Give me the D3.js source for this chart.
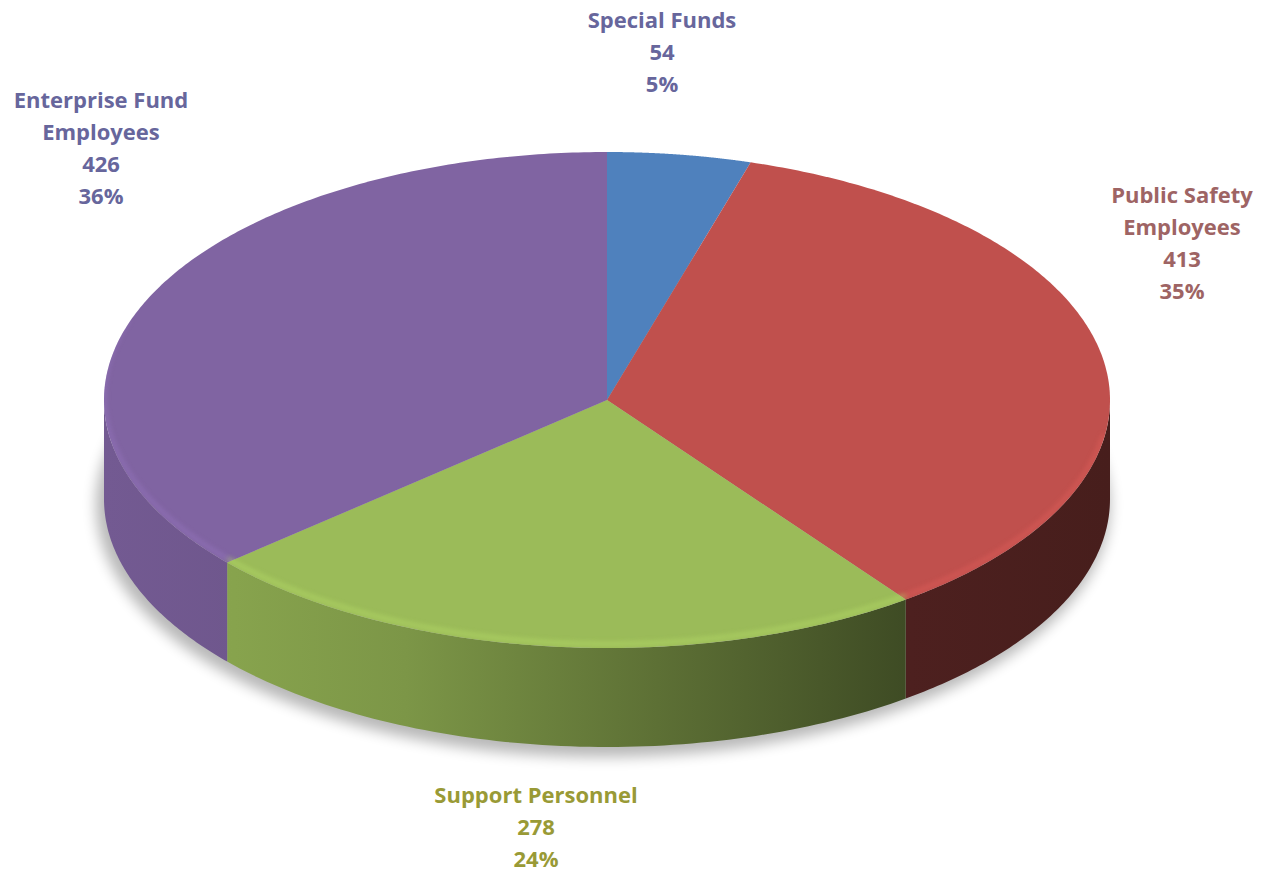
<!DOCTYPE html>
<html>
<head>
<meta charset="utf-8">
<script src="https://cdn.jsdelivr.net/npm/d3@7"></script>
<style>
  body { margin: 0; background: #fff; }
  svg { display: block; }
  text { font-family: "Open Sans", Lato, sans-serif; font-weight: bold; }
</style>
</head>
<body>
<div id="chart"></div>
<script>
// data
var categories = ['Special Funds', 'Public Safety Employees', 'Support Personnel', 'Enterprise Fund Employees'];
var values = [54, 413, 278, 426];
var percents = ['5%', '35%', '24%', '36%'];

// styles
var topColors = ['#4f81bd', '#c0504d', '#9bbb59', '#8064a2'];
var labelColors = ['#67669c', '#9e6464', '#999a36', '#67669c'];
// label lines (wrapped like the original) and anchor spots
var labelLines = [['Special Funds'], ['Public Safety', 'Employees'], ['Support Personnel'], ['Enterprise Fund', 'Employees']];
var labelAt = [[662, 28], [1182, 203], [536, 803], [101, 108]];

var width = 1264, height = 874;
var cx = 607, cy = 400, rx = 503, ry = 248, depth = 99;

var svg = d3.select('#chart').append('svg')
  .attr('width', width)
  .attr('height', height);

var defs = svg.append('defs');

defs.append('filter').attr('id', 'shadow')
  .attr('x', '-20%').attr('y', '-20%').attr('width', '140%').attr('height', '140%')
  .append('feGaussianBlur').attr('stdDeviation', 7);

defs.append('filter').attr('id', 'soft')
  .append('feGaussianBlur').attr('stdDeviation', 2.5);

// side gradient: lit from left, dark on the right
var shade = [[0, 0.9], [0.13, 0.87], [0.3, 0.8], [0.55, 0.6], [0.8, 0.4], [1, 0.37]];
topColors.forEach(function(c, i) {
  var g = defs.append('linearGradient').attr('id', 'side' + i)
    .attr('gradientUnits', 'userSpaceOnUse')
    .attr('x1', cx - rx).attr('x2', cx + rx).attr('y1', 0).attr('y2', 0);
  var base = d3.rgb(c);
  shade.forEach(function(s) {
    g.append('stop').attr('offset', s[0])
      .attr('stop-color', d3.rgb(base.r * s[1], base.g * s[1], base.b * s[1]).formatHex());
  });
});

var pie = d3.pie().sort(null).value(function(d) { return d; });
var arcs = pie(values);

function pt(t, dy) {
  return [cx + rx * Math.sin(t), cy - ry * Math.cos(t) + (dy || 0)];
}

function ellipseArc(t0, t1, dy, n) {
  var pts = [];
  n = n || 80;
  for (var k = 0; k <= n; k++) {
    pts.push(pt(t0 + (t1 - t0) * k / n, dy));
  }
  return pts;
}

// shadow under the pie
svg.append('ellipse')
  .attr('cx', cx - 4).attr('cy', cy + depth + 6)
  .attr('rx', rx + 4).attr('ry', ry + 4)
  .attr('fill', '#000').attr('opacity', 0.28)
  .attr('filter', 'url(#shadow)');

// front side walls
var line = d3.line();
var sides = svg.append('g');
arcs.forEach(function(a, i) {
  var t0 = Math.max(a.startAngle, Math.PI / 2);
  var t1 = Math.min(a.endAngle, 3 * Math.PI / 2);
  if (t1 <= t0) return;
  var top = ellipseArc(t0, t1, 0);
  var bot = ellipseArc(t1, t0, depth);
  sides.append('path')
    .attr('d', line(top.concat(bot)) + 'Z')
    .attr('fill', 'url(#side' + i + ')');
});

// top faces
var tops = svg.append('g');
arcs.forEach(function(a, i) {
  var rim = ellipseArc(a.startAngle, a.endAngle, 0, 200);
  tops.append('path')
    .attr('d', line([[cx, cy]].concat(rim)) + 'Z')
    .attr('fill', topColors[i]);
});

// bevel highlight along the front rim
var clip = defs.append('clipPath').attr('id', 'topClip');
clip.append('ellipse').attr('cx', cx).attr('cy', cy).attr('rx', rx).attr('ry', ry);
arcs.forEach(function(a, i) {
  var t0 = Math.max(a.startAngle, Math.PI * 0.55);
  var t1 = Math.min(a.endAngle, Math.PI * 1.6);
  if (t1 <= t0) return;
  var hl = d3.rgb(topColors[i]).brighter(0.5);
  svg.append('path')
    .attr('d', line(ellipseArc(t0, t1, -4)))
    .attr('fill', 'none')
    .attr('stroke', hl)
    .attr('stroke-width', 4)
    .attr('opacity', 0.55)
    .attr('clip-path', 'url(#topClip)')
    .attr('filter', 'url(#soft)');
});

// labels
var labels = svg.append('g');
arcs.forEach(function(a, i) {
  var lines = labelLines[i].concat([String(values[i]), percents[i]]);
  var t = labels.append('text')
    .attr('text-anchor', 'middle')
    .attr('fill', labelColors[i])
    .attr('font-size', 22);
  lines.forEach(function(s, k) {
    t.append('tspan')
      .attr('x', labelAt[i][0])
      .attr('y', labelAt[i][1] + k * 32)
      .text(s);
  });
});
</script>
</body>
</html>
